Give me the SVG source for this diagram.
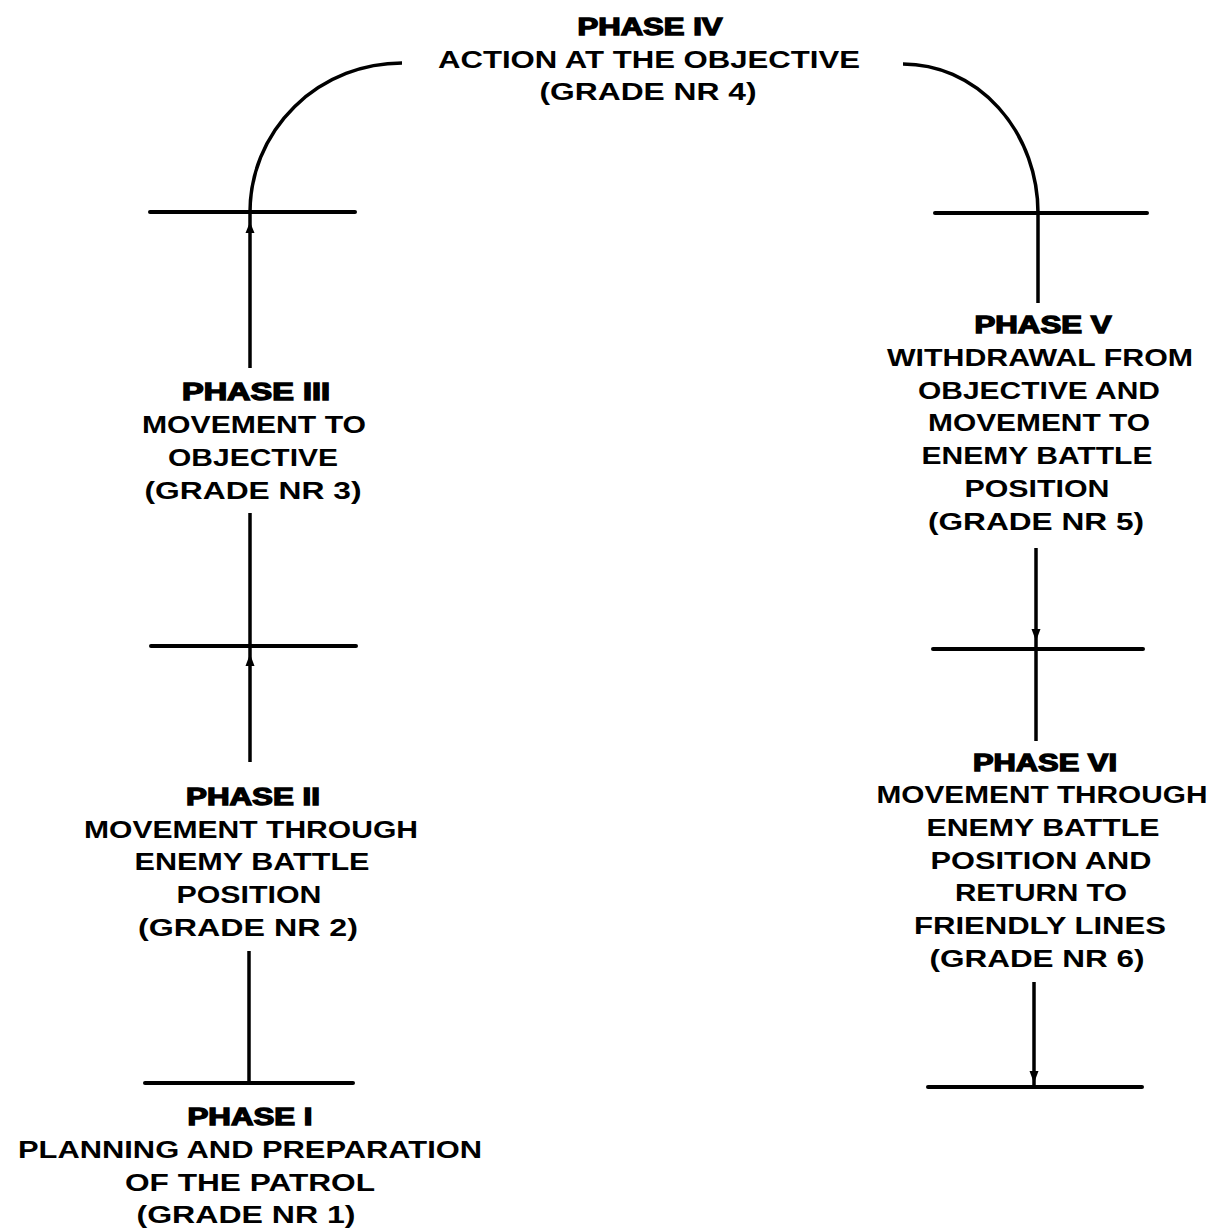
<svg xmlns="http://www.w3.org/2000/svg" width="1210" height="1228" viewBox="0 0 1210 1228">
<defs>
<style>
text{font-family:"Liberation Sans",Arial,sans-serif;font-weight:bold;font-size:23px;fill:#000;text-anchor:middle}
.h{stroke:#000;stroke-width:1.3}
.bar{stroke:#000;stroke-width:4;fill:none;stroke-linecap:round}
.ln{stroke:#000;stroke-width:3.5;fill:none}
.ar{fill:#000}
</style>
</defs>
<rect width="1210" height="1228" fill="#fff"/>
<g id="connectors">
<line class="bar" x1="150" y1="212" x2="355" y2="212"/>
<line class="bar" x1="151" y1="646" x2="356" y2="646"/>
<line class="bar" x1="145" y1="1083" x2="353" y2="1083"/>
<line class="bar" x1="935" y1="213" x2="1147" y2="213"/>
<line class="bar" x1="933" y1="649" x2="1143" y2="649"/>
<line class="bar" x1="928" y1="1087" x2="1142" y2="1087"/>
<line class="ln" x1="249" y1="1083" x2="249" y2="951"/>
<line class="ln" x1="250" y1="762" x2="250" y2="513"/>
<line class="ln" x1="250" y1="368" x2="250" y2="212"/>
<path class="ln" d="M250,212 A152,149 0 0 1 402,63"/>
<path class="ln" d="M903,64 A135,149 0 0 1 1038,213 L1038,303"/>
<line class="ln" x1="1036" y1="548" x2="1036" y2="741"/>
<line class="ln" x1="1034" y1="982" x2="1034" y2="1087"/>
<polygon class="ar" points="250,222 245.5,233 254.5,233"/>
<polygon class="ar" points="250,654 245.5,666 254.5,666"/>
<polygon class="ar" points="1036,641 1031.5,629 1040.5,629"/>
<polygon class="ar" points="1034,1083 1029.5,1071 1038.5,1071"/>
</g>
<g id="phase4">
<text class="h" x="650" y="35" textLength="145" lengthAdjust="spacingAndGlyphs">PHASE IV</text>
<text x="649" y="68" textLength="422" lengthAdjust="spacingAndGlyphs">ACTION AT THE OBJECTIVE</text>
<text x="648" y="100" textLength="217" lengthAdjust="spacingAndGlyphs">(GRADE NR 4)</text>
</g>
<g id="phase3">
<text class="h" x="256" y="400" textLength="148" lengthAdjust="spacingAndGlyphs">PHASE III</text>
<text x="254" y="433" textLength="224" lengthAdjust="spacingAndGlyphs">MOVEMENT TO</text>
<text x="253" y="466" textLength="170" lengthAdjust="spacingAndGlyphs">OBJECTIVE</text>
<text x="253" y="499" textLength="217" lengthAdjust="spacingAndGlyphs">(GRADE NR 3)</text>
</g>
<g id="phase2">
<text class="h" x="253" y="805" textLength="134" lengthAdjust="spacingAndGlyphs">PHASE II</text>
<text x="251" y="838" textLength="334" lengthAdjust="spacingAndGlyphs">MOVEMENT THROUGH</text>
<text x="252" y="870" textLength="235" lengthAdjust="spacingAndGlyphs">ENEMY BATTLE</text>
<text x="249" y="903" textLength="145" lengthAdjust="spacingAndGlyphs">POSITION</text>
<text x="248" y="936" textLength="220" lengthAdjust="spacingAndGlyphs">(GRADE NR 2)</text>
</g>
<g id="phase1">
<text class="h" x="250" y="1125" textLength="125" lengthAdjust="spacingAndGlyphs">PHASE I</text>
<text x="250" y="1158" textLength="464" lengthAdjust="spacingAndGlyphs">PLANNING AND PREPARATION</text>
<text x="250" y="1191" textLength="250" lengthAdjust="spacingAndGlyphs">OF THE PATROL</text>
<text x="246" y="1223" textLength="219" lengthAdjust="spacingAndGlyphs">(GRADE NR 1)</text>
</g>
<g id="phase5">
<text class="h" x="1043" y="333" textLength="137" lengthAdjust="spacingAndGlyphs">PHASE V</text>
<text x="1040" y="366" textLength="306" lengthAdjust="spacingAndGlyphs">WITHDRAWAL FROM</text>
<text x="1039" y="399" textLength="242" lengthAdjust="spacingAndGlyphs">OBJECTIVE AND</text>
<text x="1039" y="431" textLength="222" lengthAdjust="spacingAndGlyphs">MOVEMENT TO</text>
<text x="1037" y="464" textLength="231" lengthAdjust="spacingAndGlyphs">ENEMY BATTLE</text>
<text x="1037" y="497" textLength="145" lengthAdjust="spacingAndGlyphs">POSITION</text>
<text x="1036" y="530" textLength="216" lengthAdjust="spacingAndGlyphs">(GRADE NR 5)</text>
</g>
<g id="phase6">
<text class="h" x="1045" y="771" textLength="144" lengthAdjust="spacingAndGlyphs">PHASE VI</text>
<text x="1042" y="803" textLength="331" lengthAdjust="spacingAndGlyphs">MOVEMENT THROUGH</text>
<text x="1043" y="836" textLength="233" lengthAdjust="spacingAndGlyphs">ENEMY BATTLE</text>
<text x="1041" y="869" textLength="221" lengthAdjust="spacingAndGlyphs">POSITION AND</text>
<text x="1041" y="901" textLength="172" lengthAdjust="spacingAndGlyphs">RETURN TO</text>
<text x="1040" y="934" textLength="252" lengthAdjust="spacingAndGlyphs">FRIENDLY LINES</text>
<text x="1037" y="967" textLength="215" lengthAdjust="spacingAndGlyphs">(GRADE NR 6)</text>
</g>
</svg>
